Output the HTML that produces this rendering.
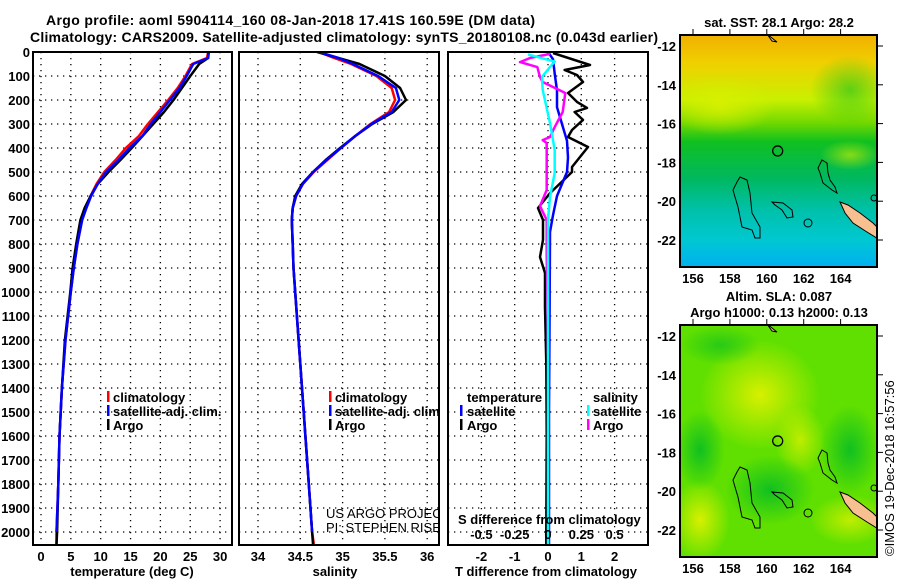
<!DOCTYPE html>
<html><head><meta charset="utf-8"><style>
body{margin:0;background:#fff;}
svg{display:block;font-family:"Liberation Sans",sans-serif;}
.b{font-weight:bold;font-size:13px;}
.t{font-weight:bold;font-size:14px;}
</style></head><body>
<svg id="c" width="900" height="580" viewBox="0 0 900 580" xmlns="http://www.w3.org/2000/svg">
<defs>
<linearGradient id="sstg" x1="0" y1="0" x2="0" y2="1">
<stop offset="0" stop-color="#f0b000"/><stop offset="0.12" stop-color="#f0d000"/><stop offset="0.28" stop-color="#c8f000"/><stop offset="0.38" stop-color="#70d800"/><stop offset="0.46" stop-color="#10c020"/><stop offset="0.62" stop-color="#00b860"/><stop offset="0.75" stop-color="#00c0a8"/><stop offset="0.88" stop-color="#00c8d0"/><stop offset="1" stop-color="#00b0f0"/>
</linearGradient>
<radialGradient id="y1" cx="0.5" cy="0.5" r="0.5"><stop offset="0" stop-color="#d8f000"/><stop offset="1" stop-color="#d8f000" stop-opacity="0"/></radialGradient>
<radialGradient id="g1" cx="0.5" cy="0.5" r="0.5"><stop offset="0" stop-color="#10c020"/><stop offset="1" stop-color="#10c020" stop-opacity="0"/></radialGradient>
<clipPath id="cp1"><rect x="33" y="52" width="199" height="493"/></clipPath>
<clipPath id="cp2"><rect x="239" y="52" width="200" height="493"/></clipPath>
<clipPath id="cp3"><rect x="448" y="52" width="200" height="493"/></clipPath>
<clipPath id="cm1"><rect x="680" y="35" width="197" height="232"/></clipPath>
<clipPath id="cm2"><rect x="680" y="325" width="197" height="232"/></clipPath>
</defs>

<text class="t" x="46" y="25" textLength="489">Argo profile: aoml 5904114_160 08-Jan-2018 17.41S 160.59E (DM data)</text>
<text class="t" x="30" y="42" textLength="628">Climatology: CARS2009. Satellite-adjusted climatology: synTS_20180108.nc (0.043d earlier)</text>

<g id="grid"></g>
<g id="marks"></g>

<rect x="33" y="52" width="199" height="493" fill="none" stroke="#000" stroke-width="2"/>
<rect x="239" y="52" width="200" height="493" fill="none" stroke="#000" stroke-width="2"/>
<rect x="448" y="52" width="200" height="493" fill="none" stroke="#000" stroke-width="2"/>
<g id="labels"></g>

<g class="b">
<rect x="107" y="391" width="2.5" height="11" fill="#f00"/><text x="113" y="402">climatology</text>
<rect x="107" y="405" width="2.5" height="11" fill="#00f"/><text x="113" y="416">satellite-adj. clim.</text>
<rect x="107" y="419" width="2.5" height="11" fill="#000"/><text x="113" y="430">Argo</text>
</g>
<g class="b" clip-path="url(#cp2)">
<rect x="329" y="391" width="2.5" height="11" fill="#f00"/><text x="335" y="402">climatology</text>
<rect x="329" y="405" width="2.5" height="11" fill="#00f"/><text x="335" y="416">satellite-adj. clim.</text>
<rect x="329" y="419" width="2.5" height="11" fill="#000"/><text x="335" y="430">Argo</text>
<text x="326" y="518" font-weight="normal" font-size="13">US ARGO PROJECT</text>
<text x="326" y="532" font-weight="normal" font-size="13">PI: STEPHEN RISER</text>
</g>
<g class="b">
<text x="467" y="402">temperature</text>
<rect x="460" y="405" width="2.5" height="11" fill="#00f"/><text x="467" y="416">satellite</text>
<rect x="460" y="419" width="2.5" height="11" fill="#000"/><text x="467" y="430">Argo</text>
<text x="593" y="402">salinity</text>
<rect x="587" y="405" width="2.5" height="11" fill="#0ff"/><text x="593" y="416">satellite</text>
<rect x="587" y="419" width="2.5" height="11" fill="#f0f"/><text x="593" y="430">Argo</text>
<text x="458" y="524">S difference from climatology</text>
</g>
<text class="b" x="132" y="576" text-anchor="middle">temperature (deg C)</text>
<text class="b" x="335" y="576" text-anchor="middle">salinity</text>
<text class="b" x="546" y="576" text-anchor="middle">T difference from climatology</text>

<g clip-path="url(#cm1)">
<rect x="680" y="35" width="197" height="232" fill="url(#sstg)"/>
<ellipse cx="720" cy="105" rx="55" ry="30" fill="url(#y1)" opacity="0.9"/>
<ellipse cx="850" cy="90" rx="40" ry="35" fill="url(#g1)" opacity="0.6"/>
<ellipse cx="850" cy="155" rx="30" ry="15" fill="url(#y1)" opacity="0.6"/>
<g id="coast1"></g>
</g>
<g clip-path="url(#cm2)">
<rect x="680" y="325" width="197" height="232" fill="#60e000"/>
<ellipse cx="760" cy="395" rx="60" ry="55" fill="url(#y1)"/>
<ellipse cx="700" cy="520" rx="30" ry="40" fill="url(#y1)"/>
<ellipse cx="800" cy="440" rx="25" ry="35" fill="url(#y1)" opacity="0.8"/>
<ellipse cx="850" cy="520" rx="40" ry="25" fill="url(#y1)" opacity="0.8"/>
<ellipse cx="850" cy="450" rx="30" ry="45" fill="url(#g1)"/>
<ellipse cx="700" cy="450" rx="25" ry="40" fill="url(#g1)"/>
<ellipse cx="770" cy="490" rx="45" ry="35" fill="url(#g1)"/>
<ellipse cx="720" cy="345" rx="40" ry="20" fill="url(#g1)" opacity="0.7"/>
<g id="coast2"></g>
</g>
<rect x="680" y="35" width="197" height="232" fill="none" stroke="#000" stroke-width="2"/>
<rect x="680" y="325" width="197" height="232" fill="none" stroke="#000" stroke-width="2"/>
<text class="b" x="779" y="27" text-anchor="middle">sat. SST: 28.1 Argo: 28.2</text>
<text class="b" x="779" y="301" text-anchor="middle">Altim. SLA: 0.087</text>
<text class="b" x="779" y="317" text-anchor="middle">Argo h1000: 0.13 h2000: 0.13</text>
<text x="894" y="556" font-size="13" transform="rotate(-90 894 556)">©IMOS 19-Dec-2018 16:57:56</text>
</svg>
<script>
const depths = [0,25,50,100,150,200,250,300,350,400,450,500,550,600,650,700,800,900,1000,1200,1400,1600,1800,2000,2050];
const argoT = [28.1,28,26.5,25,23.6,22.2,20.6,18.8,17,15.2,13.3,11.3,9.5,8.3,7.3,6.6,5.9,5.3,4.9,4.0,3.5,3.1,2.9,2.7,2.6];
const climT = [28.0,27.8,25.3,24.2,22.9,21.3,19.6,17.9,16.4,14.2,12.5,10.6,9.3,8.3,7.5,6.8,6.1,5.5,5.0,4.1,3.5,3.1,2.9,2.6,2.6];
const satT  = [28.0,28.0,25.5,24.4,23.2,21.6,20.0,18.4,17.0,14.8,13.0,10.9,9.5,8.4,7.6,6.9,6.1,5.5,5.0,4.1,3.5,3.1,2.9,2.6,2.6];
const argoS = [34.7,34.95,35.2,35.5,35.68,35.75,35.6,35.35,35.15,34.97,34.8,34.65,34.52,34.44,34.41,34.4,34.41,34.42,34.44,34.48,34.52,34.56,34.6,34.64,34.65];
const climS = [34.72,34.9,35.1,35.4,35.58,35.62,35.55,35.33,35.15,34.98,34.82,34.66,34.53,34.45,34.41,34.4,34.41,34.42,34.44,34.48,34.52,34.56,34.6,34.64,34.66];
const satS  = [34.72,34.95,35.12,35.42,35.63,35.67,35.58,35.34,35.15,34.98,34.81,34.65,34.53,34.45,34.41,34.4,34.41,34.42,34.44,34.48,34.52,34.56,34.6,34.64,34.65];
const dArgoTDepth = [4,54,75,96,125,171,208,233,250,283,325,354,396,479,500,588,650,700,783,854,921,1063,1300,1600,2000,2050];
const dArgoT = [0.15,1.26,0.5,0.87,1.05,0.6,0.87,1.17,0.8,1.05,0.72,0.6,1.2,0.72,0.72,0.06,-0.3,-0.15,-0.15,-0.24,-0.09,-0.09,-0.05,-0.04,-0.05,-0.05];
const dSatTDepth = [0,30,90,160,230,300,370,440,500,600,680,750,1000,1500,2050];
const dSatT = [0.0,0.15,0.2,0.27,0.27,0.42,0.57,0.6,0.57,0.27,0.15,0.06,0.05,0.03,0.03];
const dSatSDepth = [10,40,62,104,158,296,408,504,604,700,1000,1500,2050];
const dSatS = [-0.15,0.05,0.015,-0.045,-0.04,0.015,0.05,0.05,0.015,0,0,0,0];
const dArgoSDepth = [8,25,42,63,104,125,171,250,313,354,367,379,450,575,642,700,850,1000,1260];
const dArgoS = [0.015,-0.135,-0.21,-0.08,-0.06,-0.04,0.13,0.11,0.05,0.015,-0.04,-0.01,-0.01,-0.01,-0.06,-0.01,-0.01,-0.005,0];
const depthTicks = [0,100,200,300,400,500,600,700,800,900,1000,1100,1200,1300,1400,1500,1600,1700,1800,1900,2000];
const tTicks = [0,5,10,15,20,25,30];
const sTicks = [34,34.5,35,35.5,36];
const sTickLabels = ["34","34.5","35","35.5","36"];
const dTTicks = [-2,-1,0,1,2];
const dSTicks = [-0.5,-0.25,0,0.25,0.5];
const dSTickLabels = ["-0.5","-0.25","0","0.25","0.5"];
const latTicks = [-12,-14,-16,-18,-20,-22];
const lonTicks = [156,158,160,162,164];

const NS="http://www.w3.org/2000/svg";
const yD = d => 52 + d*0.24;
const xT = v => 41 + v*5.97;
const xS = v => 258 + (v-34)*84.6;
const xDT = v => 548 + v*33.3;
const xDS = v => 548 + v*133.2;
const lonX = v => 693 + (v-156)*18.45;
const latY = v => 46 + (-12-v)*19.4;

function mk(tag, attrs, parent){const e=document.createElementNS(NS,tag);for(const k in attrs)e.setAttribute(k,attrs[k]);parent.appendChild(e);return e;}
const grid=document.getElementById('grid'), marks=document.getElementById('marks'), labels=document.getElementById('labels');

const panels=[{x0:33,x1:232,ticks:tTicks,f:xT},{x0:239,x1:439,ticks:sTicks,f:xS},{x0:448,x1:648,ticks:dTTicks,f:xDT}];
panels.forEach(p=>{
  depthTicks.forEach(d=>{const l=mk('line',{x1:p.x0,x2:p.x1,y1:yD(d),y2:yD(d),stroke:'#000','stroke-width':1.3,'stroke-dasharray':'1.3 4.7'},grid);
    
    });
  p.ticks.forEach(v=>{const l=mk('line',{x1:p.f(v),x2:p.f(v),y1:52,y2:545,stroke:'#000','stroke-width':1.3,'stroke-dasharray':'1.3 4.7'},grid);
    
    });
});
depthTicks.forEach(d=>{const t=mk('text',{x:30,y:yD(d)+5,'text-anchor':'end',class:'b'},labels);t.textContent=d;
  
  });
tTicks.forEach(v=>{const t=mk('text',{x:xT(v),y:561,'text-anchor':'middle',class:'b'},labels);t.textContent=v;
  
  });
sTicks.forEach((v,i)=>{const t=mk('text',{x:xS(v),y:561,'text-anchor':'middle',class:'b'},labels);t.textContent=sTickLabels[i];
  
  });
dTTicks.forEach(v=>{const t=mk('text',{x:xDT(v),y:561,'text-anchor':'middle',class:'b'},labels);t.textContent=v;
  
  });
dSTicks.forEach((v,i)=>{const t=mk('text',{x:xDS(v),y:539,'text-anchor':'middle',class:'b'},labels);t.textContent=dSTickLabels[i];
  
  });

function line(xs, ds, fx, color, clip, name){
  const pts=xs.map((v,i)=>fx(v).toFixed(1)+','+yD(ds[i]).toFixed(1)).join(' ');
  const p=mk('polyline',{points:pts,fill:'none',stroke:color,'stroke-width':2.5,'stroke-linejoin':'round','clip-path':'url(#'+clip+')'},marks);
  
  
}
line(climT,depths,xT,'#f00','cp1','temperature-climatology-line');
line(argoT,depths,xT,'#000','cp1','temperature-argo-line');
line(satT,depths.slice(0,24),xT,'#00f','cp1','temperature-satellite-line');
line(climS,depths,xS,'#f00','cp2','salinity-climatology-line');
line(argoS,depths,xS,'#000','cp2','salinity-argo-line');
line(satS,depths.slice(0,24),xS,'#00f','cp2','salinity-satellite-line');
line(dArgoT,dArgoTDepth,xDT,'#000','cp3','t-difference-argo-line');
line(dSatT,dSatTDepth,xDT,'#00f','cp3','t-difference-satellite-line');
line(dArgoS,dArgoSDepth,xDS,'#f0f','cp3','s-difference-argo-line');
line(dSatS,dSatSDepth,xDS,'#0ff','cp3','s-difference-satellite-line');

[0,290].forEach((off,mi)=>{
  latTicks.forEach(v=>{const t=mk('text',{x:676,y:latY(v)+off+5,'text-anchor':'end',class:'b'},labels);t.textContent=v;
    
    
    mk('line',{x1:877,x2:883,y1:latY(v)+off,y2:latY(v)+off,stroke:'#000'},labels);});
  lonTicks.forEach(v=>{const t=mk('text',{x:lonX(v),y:283+off,'text-anchor':'middle',class:'b'},labels);t.textContent=v;
    
    
    mk('line',{x1:lonX(v),x2:lonX(v),y1:29+off,y2:35+off,stroke:'#000'},labels);});
  const g=document.getElementById(mi?'coast2':'coast1');
  const gg=mk('g',{transform:'translate(0,'+off+')',fill:'none',stroke:'#000','stroke-width':1},g);
  mk('polygon',{points:'740,177 747,180 750,193 752,213 760,227 760,238 755,238 752,230 742,227 738,207 735,197 733,190 737,182'},gg);
  mk('polygon',{points:'822,160 827,163 828,173 830,180 835,187 837,193 832,190 823,183 820,173 818,168'},gg);
  mk('polygon',{points:'772,202 783,203 792,210 793,217 787,218 782,210 775,205'},gg);
  mk('circle',{cx:808,cy:223,r:4},gg);
  mk('polygon',{points:'840,202 848,205 860,213 873,223 880,230 880,240 867,232 853,223 845,213',fill:'#f8c090'},gg);
  mk('polygon',{points:'767,34 772,38 777,42 772,41',fill:'#f8c090'},gg);
  mk('circle',{cx:874,cy:198,r:3},gg);
  const m=mk('circle',{cx:lonX(160.59),cy:latY(-17.41),r:5,'stroke-width':1.3},gg);
  
  
});
</script>
</body></html>
